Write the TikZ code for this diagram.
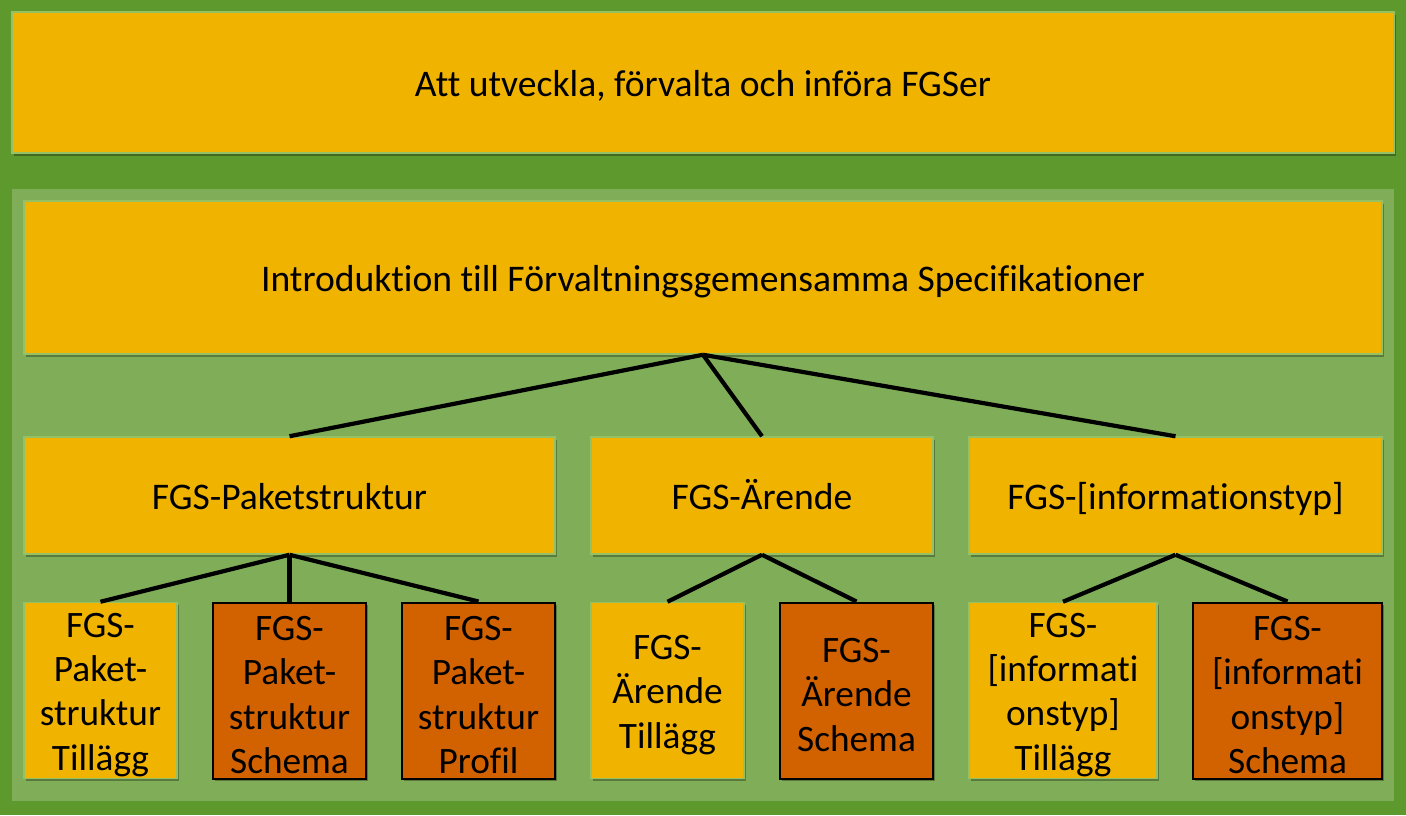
\documentclass[tikz,border=0pt]{standalone}
\usepackage{fontspec}
\setmainfont{Carlito}[Ligatures=NoCommon]
\usetikzlibrary{shadows}
\definecolor{bgg}{RGB}{94,153,46}
\definecolor{pnl}{RGB}{128,174,88}
\definecolor{gold}{RGB}{240,180,0}
\definecolor{rust}{RGB}{210,98,0}
\definecolor{edgeg}{RGB}{150,192,100}
\newcommand{\firstpad}{\rule{0pt}{33pt}}
\begin{document}
\begin{tikzpicture}[x=1pt,y=-1pt,
  boxbase/.style={rectangle, inner sep=0pt, align=center, text=black,
    font=\fontsize{37.6}{44.3}\selectfont},
  oneline/.style={text height=29pt, text depth=1pt},
  goldbox/.style={boxbase, fill=gold, draw=edgeg, line width=1.5pt,
    drop shadow={shadow xshift=2pt, shadow yshift=-2.5pt, opacity=0.3, fill=black}},
  rustbox/.style={boxbase, fill=rust, draw=black, line width=2pt,
    drop shadow={shadow xshift=2pt, shadow yshift=-2.5pt, opacity=0.3, fill=black}},
  leaf/.style={minimum width=153pt, minimum height=176pt,
    font=\fontsize{37.3}{44.3}\selectfont},
  conn/.style={draw=black, line width=4.2pt}]
\fill[bgg] (0,0) rectangle (1406,815);
\useasboundingbox (0,0) rectangle (1406,815);
% inner panel
\fill[pnl] (12,189) rectangle (1394,801);
% top box
\node[goldbox, oneline, minimum width=1382pt, minimum height=141pt] (top) at (703,82.5)
  {Att utveckla, förvalta och införa FGSer};
% intro
\node[goldbox, oneline, minimum width=1358pt, minimum height=153pt] (intro) at (703,277.5)
  {Introduktion till Förvaltningsgemensamma Specifikationer};
% middle row
\node[goldbox, oneline, minimum width=531pt, minimum height=117pt] (pak) at (289.5,495.5)
  {FGS-Paketstruktur};
\node[goldbox, oneline, minimum width=342pt, minimum height=117pt] (are) at (762,495.5)
  {FGS-Ärende};
\node[goldbox, oneline, minimum width=413pt, minimum height=117pt] (inf) at (1175.5,495.5)
  {FGS-[informationstyp]};
% bottom row
\node[goldbox, leaf] (pt) at (100.5,690.5) {\firstpad FGS-\\Paket-\\struktur\\Tillägg};
\node[rustbox, leaf] (ps) at (289.5,690.5) {\firstpad FGS-\\Paket-\\struktur\\Schema};
\node[rustbox, leaf] (pp) at (478.5,690.5) {\firstpad FGS-\\Paket-\\struktur\\Profil};
\node[goldbox, leaf] (at) at (667.5,690.5) {\firstpad FGS-\\Ärende\\Tillägg};
\node[rustbox, leaf] (as) at (856.5,690.5) {\firstpad FGS-\\Ärende\\Schema};
\node[goldbox, leaf, minimum width=188pt] (it) at (1063,690.5) {\firstpad FGS-\\{[}informati\\onstyp{]}\\Tillägg};
\node[rustbox, leaf, minimum width=189pt] (is) at (1287.5,690.5) {\firstpad FGS-\\{[}informati\\onstyp{]}\\Schema};
% connectors
\draw[conn] (intro.south) -- (pak.north);
\draw[conn] (intro.south) -- (are.north);
\draw[conn] (intro.south) -- (inf.north);
\draw[conn] (pak.south) -- (pt.north);
\draw[conn] (pak.south) -- (ps.north);
\draw[conn] (pak.south) -- (pp.north);
\draw[conn] (are.south) -- (at.north);
\draw[conn] (are.south) -- (as.north);
\draw[conn] (inf.south) -- (it.north);
\draw[conn] (inf.south) -- (is.north);
\end{tikzpicture}
\end{document}
